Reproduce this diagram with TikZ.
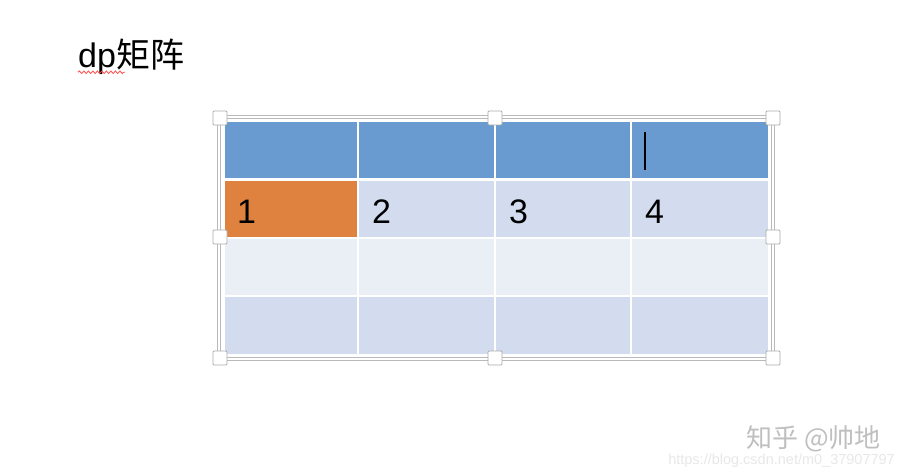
\documentclass[tikz,border=0pt]{standalone}
\usepackage{fontspec}
\setmainfont{Liberation Sans}
\newfontfamily\cjk{Noto Sans CJK SC}
\usetikzlibrary{decorations.pathmorphing}
\definecolor{headblue}{HTML}{6A9BD0}
\definecolor{cellorange}{HTML}{E0823F}
\definecolor{rowdark}{HTML}{D3DCEE}
\definecolor{rowlight}{HTML}{EAEEF5}

\begin{document}
\begin{tikzpicture}[x=1pt,y=-1pt,
	digit/.style={anchor=base west,inner sep=0pt,font=\fontsize{34}{40}\selectfont},
	handle/.style={draw=gray!65,fill=white,minimum size=14pt,inner sep=0pt,line width=0.8pt,rounded corners=1pt}]
	\useasboundingbox[fill=white] (0,0) rectangle (904,476);
	% title
	\node[anchor=base west,inner sep=0pt,font=\fontsize{34}{40}\selectfont] (title) at (78,68) {dp{\cjk 矩阵}};
	\draw[red!70,line width=0.8pt,decorate,decoration={snake,amplitude=1.3pt,segment length=4.5pt}] (title.south west) ++(0,-3) coordinate (sqa) -- ++(47,0) coordinate (sqb);
	% cells
	\fill[headblue] (225,122) rectangle (768,179);
	\fill[rowdark] (225,179) rectangle (768,238);
	\fill[rowlight] (225,238) rectangle (768,296);
	\fill[rowdark] (225,296) rectangle (768,354);
	\fill[cellorange] (225,179) rectangle (358,238);
	\draw[white,line width=3pt] (225,179) -- (768,179);
	\draw[white,line width=2.5pt] (225,238) -- (768,238);
	\draw[white,line width=2.5pt] (225,296) -- (768,296);
	\draw[white,line width=2.5pt] (358,122) -- (358,354);
	\draw[white,line width=2.5pt] (495,122) -- (495,354);
	\draw[white,line width=2.5pt] (631,122) -- (631,354);
	\node[digit] (d1) at (237,223) {1};
	\node[digit] (d2) at (372,223) {2};
	\node[digit] (d3) at (509,223) {3};
	\node[digit] (d4) at (645,223) {4};
	% text cursor
	\draw[black,line width=1.6pt] (645,132) coordinate (cura) -- (645,170) coordinate (curb);
	% selection frame
	\draw[gray!55,line width=4.5pt] (219,117) rectangle (773,359);
	\draw[white,line width=1.6pt] (219,117) rectangle (773,359);
	\node[handle] (hnw) at (220,118) {};
	\node[handle] (hn) at (495,118) {};
	\node[handle] (hne) at (773,118) {};
	\node[handle] (hw) at (220,237) {};
	\node[handle] (he) at (773,237) {};
	\node[handle] (hsw) at (220,358) {};
	\node[handle] (hs) at (495,358) {};
	\node[handle] (hse) at (773,358) {};
	% watermark
	\node[anchor=base east,inner sep=0pt,text=gray!50,font=\fontsize{26}{30}\selectfont\cjk] (mark) at (881,447) {知乎 @帅地};
	\node[anchor=base east,inner sep=0pt,text=gray!18,font=\fontsize{14.5}{16}\selectfont] (url) at (895,464) {https://blog.csdn.net/m0\_37907797};
\end{tikzpicture}
\end{document}
